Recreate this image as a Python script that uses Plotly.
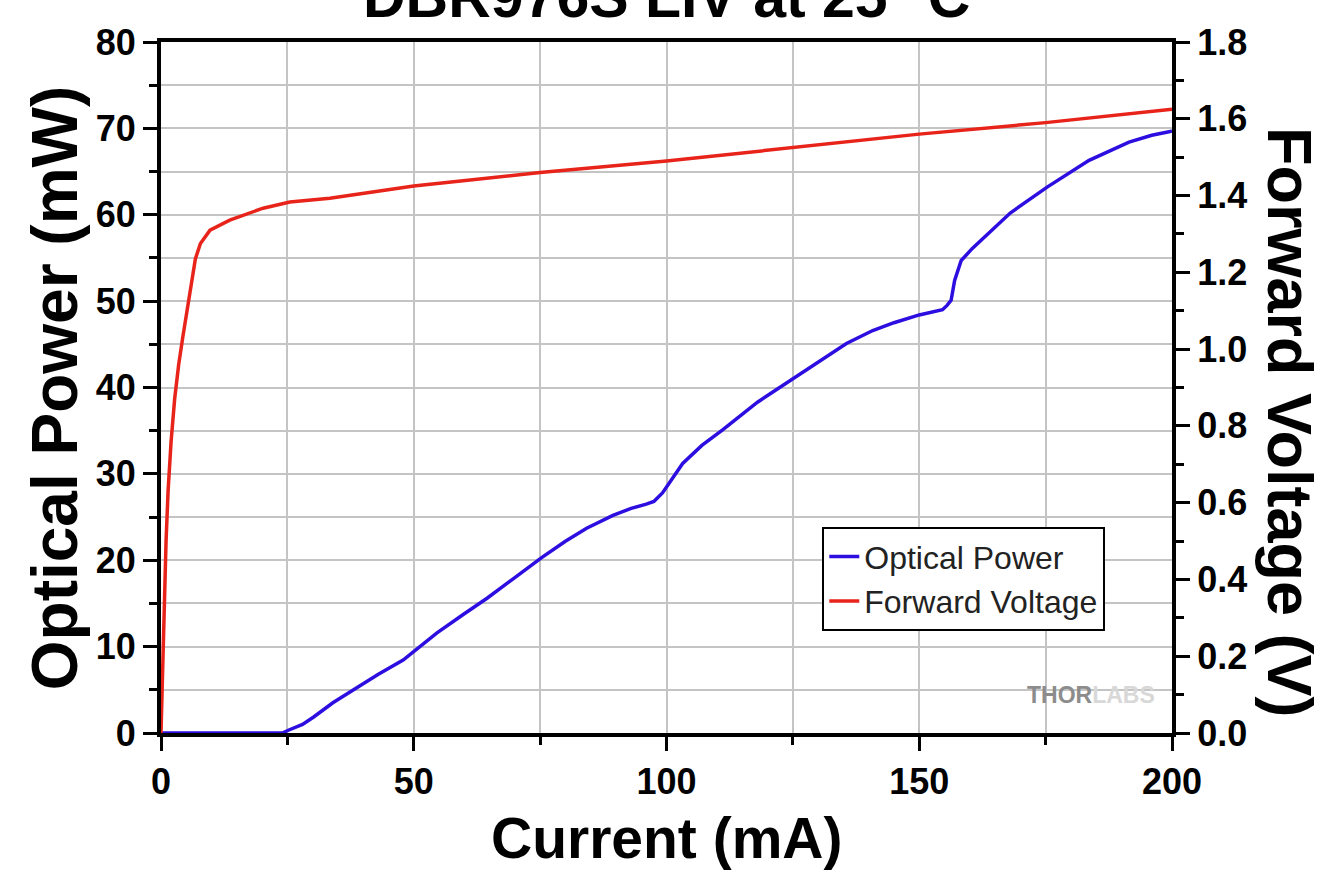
import plotly.graph_objects as go

# Optical power (left axis)
current_op = [0, 24, 25.3, 28, 30.2, 34, 38.1, 43, 47.9, 50, 54.6, 60, 64.5, 70, 75.3, 80, 84.2,
              89.4, 93, 96, 97.5, 99.2, 101, 103.2, 107, 111.1, 118, 125.3, 130, 135.6, 140.8, 145,
              150, 154.6, 155.5, 156.3, 157, 158.3, 160.5, 163.9, 168, 175.3, 183.6, 191.5, 196,
              199.4, 200]
power_mw = [0, 0, 0.35, 1.0, 1.85, 3.5, 5.0, 6.8, 8.45, 9.4, 11.6, 13.8, 15.6, 18.0, 20.3, 22.2, 23.7,
            25.2, 26.0, 26.5, 26.8, 27.8, 29.3, 31.2, 33.3, 35.1, 38.3, 41.1, 43.0, 45.1, 46.6, 47.5,
            48.4, 49.0, 49.5, 50.1, 52.4, 54.7, 56.1, 57.9, 60.2, 63.2, 66.3, 68.4, 69.2, 69.6, 69.7]

# Forward voltage (right axis)
current_v = [0, 0.3, 0.6, 1.0, 1.4, 2.0, 2.7, 3.5, 4.3, 4.9, 5.5, 6.1, 6.8, 7.8, 9.7, 13.6, 20.2,
             25.5, 33.4, 50, 75, 100, 125, 150, 175, 200]
voltage_v = [0, 0.15, 0.33, 0.5, 0.63, 0.76, 0.87, 0.96, 1.03, 1.08, 1.14, 1.19, 1.235, 1.275, 1.31,
             1.336, 1.367, 1.383, 1.393, 1.425, 1.46, 1.49, 1.525, 1.56, 1.59, 1.625]

title_text = "DBR976S LIV at 25 °C"
x_title = "Current (mA)"
y_title = "Optical Power (mW)"
y2_title = "Forward Voltage (V)"

FONT = "Liberation Sans, Arial, sans-serif"
BLUE = "#2c0ee0"
RED = "#e8231a"
GRID = "#c4c4c4"

fig = go.Figure()
fig.add_trace(go.Scatter(x=current_op, y=power_mw, name="Optical Power", mode="lines",
                         line=dict(color=BLUE, width=3.5), cliponaxis=False))
fig.add_trace(go.Scatter(x=current_v, y=voltage_v, name="Forward Voltage", mode="lines",
                         yaxis="y2", line=dict(color=RED, width=3.5), cliponaxis=False))

tickfont = dict(family=FONT, size=36, color="black", weight="bold")

fig.update_layout(
    width=1335, height=871,
    margin=dict(l=161, r=163, t=42, b=138),
    paper_bgcolor="white", plot_bgcolor="white",
    font=dict(family=FONT, color="black"),
    xaxis=dict(range=[0, 200], tick0=0, dtick=50, ticks="outside", ticklen=14, tickwidth=3,
               tickcolor="black", showline=True, linewidth=4, linecolor="black", mirror=True,
               showgrid=True, gridcolor=GRID, gridwidth=1.5, zeroline=False,
               tickfont=tickfont,
               minor=dict(tick0=0, dtick=25, ticks="outside", ticklen=8, tickwidth=2.5,
                          tickcolor="black", showgrid=True, gridcolor=GRID, gridwidth=1.5)),
    yaxis=dict(range=[0, 80], tick0=0, dtick=10, ticks="outside", ticklen=14, tickwidth=3,
               tickcolor="black", showline=True, linewidth=4, linecolor="black",
               showgrid=True, gridcolor=GRID, gridwidth=1.5, zeroline=False,
               tickfont=tickfont,
               minor=dict(tick0=0, dtick=5, ticks="outside", ticklen=8, tickwidth=2.5,
                          tickcolor="black", showgrid=True, gridcolor=GRID, gridwidth=1.5)),
    yaxis2=dict(range=[0, 1.8], tick0=0, dtick=0.2, tickformat=".1f", overlaying="y", side="right",
                ticks="outside", ticklen=14, tickwidth=3, tickcolor="black",
                showline=True, linewidth=4, linecolor="black", showgrid=False, zeroline=False,
                tickfont=tickfont,
                minor=dict(tick0=0, dtick=0.1, ticks="outside", ticklen=8, tickwidth=2.5,
                           tickcolor="black", showgrid=False)),
    legend=dict(x=0.934, y=0.298, xanchor="right", yanchor="top",
                bgcolor="white", bordercolor="black", borderwidth=2,
                font=dict(family=FONT, size=32, color="#222222")),
    showlegend=True,
)

fig.add_annotation(text=title_text, xref="paper", yref="paper", x=0.5, y=1.014,
                   xanchor="center", yanchor="bottom", showarrow=False,
                   font=dict(family=FONT, size=59, color="black", weight="bold"))
fig.add_annotation(text=x_title, xref="paper", yref="paper", x=0.5, y=-0.152,
                   xanchor="center", yanchor="middle", showarrow=False,
                   font=dict(family=FONT, size=57, color="black", weight="bold"))
fig.add_annotation(text=y_title, xref="paper", yref="paper", x=-0.1048, y=0.499,
                   xanchor="center", yanchor="middle", showarrow=False, textangle=-90,
                   font=dict(family=FONT, size=64, color="black", weight="bold"))
fig.add_annotation(text=y2_title, xref="paper", yref="paper", x=1.1167, y=0.45,
                   xanchor="center", yanchor="middle", showarrow=False, textangle=90,
                   font=dict(family=FONT, size=63, color="black", weight="bold"))
fig.add_annotation(text="<b>THOR</b><span style='color:#d8d8d8'><b>LABS</b></span>",
                   xref="paper", yref="paper", x=0.92, y=0.055, xanchor="center", yanchor="middle",
                   showarrow=False, font=dict(family=FONT, size=23, color="#8c8c8c"))

fig.write_html("out.html")
